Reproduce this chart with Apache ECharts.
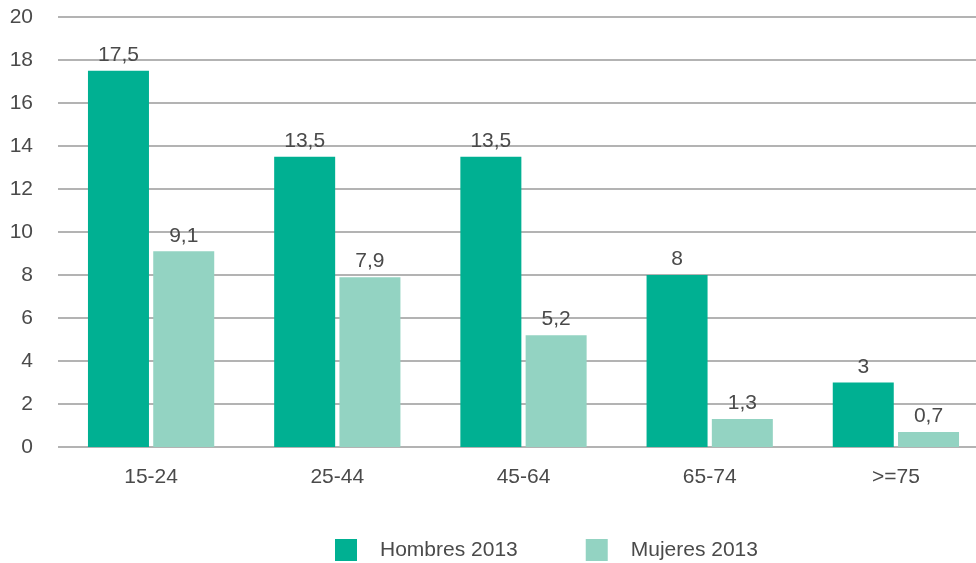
<!DOCTYPE html>
<html>
<head>
<meta charset="utf-8">
<script src="https://cdn.jsdelivr.net/npm/echarts@6/dist/echarts.min.js"></script>
<style>
    html, body { margin: 0; padding: 0; background: #fff; overflow: hidden; }
    #chart { width: 989px; height: 563px; }
</style>
</head>
<body>
<div id="chart"></div>
<script>
const categories = ['15-24', '25-44', '45-64', '65-74', '>=75'];
const hombres = [17.5, 13.5, 13.5, 8, 3];
const mujeres = [9.1, 7.9, 5.2, 1.3, 0.7];
const yTicks = { min: 0, max: 20, interval: 2 };

const FONT = 'Liberation Sans';
const TEXT = '#4a4a4a';
const SIZE = 21;

// el lienzo es algo más ancho que la ventana: el gráfico original queda recortado a la derecha
const chart = echarts.init(document.getElementById('chart'));

// etiquetas con coma decimal
const fmt = p => String(p.value).replace('.', ',');

chart.setOption({
    animation: false,
    textStyle: { fontFamily: FONT },
    grid: { left: 58, right: 0, top: 17, bottom: 116 },
    legend: {
        left: 335,
        bottom: 2,
        padding: 0,
        itemWidth: 22,
        itemHeight: 22,
        itemGap: 68,
        icon: 'rect',
        textStyle: { fontSize: SIZE, color: TEXT, fontFamily: FONT, padding: [0, 0, 0, 18] },
        data: ['Hombres 2013', 'Mujeres 2013']
    },
    xAxis: {
        type: 'category',
        data: categories,
        axisLine: { show: false },
        axisTick: { show: false },
        axisLabel: { fontSize: SIZE, color: TEXT, margin: 20 }
    },
    yAxis: {
        type: 'value',
        min: yTicks.min,
        max: yTicks.max,
        interval: yTicks.interval,
        axisLabel: { fontSize: SIZE, color: TEXT, margin: 25 },
        splitLine: { lineStyle: { color: '#9a9a9a', width: 1.5 } }
    },
    series: [
        {
            name: 'Hombres 2013',
            type: 'bar',
            data: hombres,
            barWidth: 61,
            barGap: '7%',
            itemStyle: { color: '#00b092' },
            label: { show: true, position: 'top', distance: 5, fontSize: SIZE, color: TEXT, formatter: fmt }
        },
        {
            name: 'Mujeres 2013',
            type: 'bar',
            data: mujeres,
            barWidth: 61,
            itemStyle: { color: '#93d3c2' },
            label: { show: true, position: 'top', distance: 5, fontSize: SIZE, color: TEXT, formatter: fmt }
        }
    ]
});
</script>
</body>
</html>
